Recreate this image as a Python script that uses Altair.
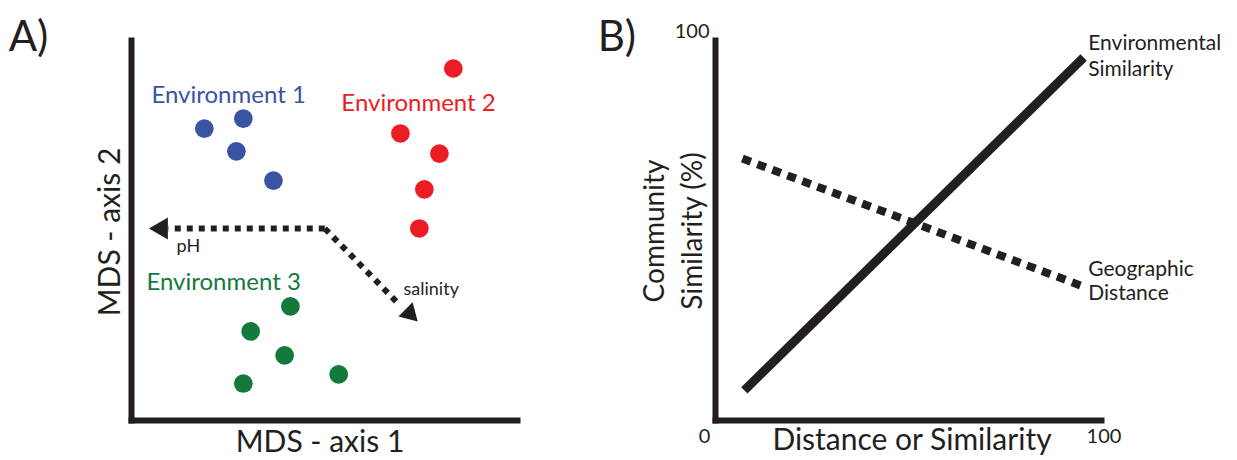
import altair as alt
import pandas as pd

FONT = "Lato"
INK = "#231f20"

# ---------------- Panel A data (MDS ordination, axis units 0-100) ----------------
env_names = ["Environment 1", "Environment 2", "Environment 3"]
env_colors = ["#3a54a4", "#ec1c24", "#137a3c"]
env1_x = [19.0, 29.1, 27.3, 36.9]
env1_y = [76.7, 79.3, 70.7, 63.0]
env2_x = [83.5, 69.8, 79.9, 76.0, 74.7]
env2_y = [92.5, 75.4, 70.1, 60.7, 50.4]
env3_x = [41.3, 31.0, 39.8, 29.1, 53.8]
env3_y = [29.9, 23.3, 17.0, 9.6, 12.0]
env_label_x = [5.3, 54.5, 4.0]
env_label_y = [83.3, 81.2, 34.3]

arrow_names = ["pH", "salinity"]
arrow_x0 = [50.2, 50.2]
arrow_y0 = [50.4, 50.4]
arrow_x1 = [9.7, 69.0]
arrow_y1 = [50.4, 30.9]
head_x = [7.1, 72.7]
head_y = [50.4, 27.5]
arrow_label_x = [11.8, 70.6]
arrow_label_y = [44.3, 32.8]

# ---------------- Panel B data (conceptual relationships, 0-100) ----------------
envsim_x = [7.6, 95.5]
envsim_y = [7.8, 95.4]
geodist_x = [7.1, 95.5]
geodist_y = [68.8, 35.1]
line_label_text = ["Environmental", "Similarity", "Geographic", "Distance"]
line_label_x = [96.7, 96.7, 96.7, 96.7]
line_label_y = [97.5, 90.4, 37.8, 31.7]
x_tick_values = [0, 100]
y_tick_values = [100]

panel_tags = ["A)", "B)"]
tag_x = [-31.7, -30.4]
tag_y = [97.2, 97.2]

# ---------------- tables ----------------
pts = pd.DataFrame({
    "x": env1_x + env2_x + env3_x,
    "y": env1_y + env2_y + env3_y,
    "env": [env_names[0]] * len(env1_x) + [env_names[1]] * len(env2_x) + [env_names[2]] * len(env3_x),
})
env_lab = pd.DataFrame({"x": env_label_x, "y": env_label_y, "env": env_names})
arrows = pd.DataFrame({"x": arrow_x0, "y": arrow_y0, "x2": arrow_x1, "y2": arrow_y1, "name": arrow_names})
heads = pd.DataFrame({"x": head_x, "y": head_y, "name": arrow_names})
arrow_lab = pd.DataFrame({"x": arrow_label_x, "y": arrow_label_y, "name": arrow_names})
tagA = pd.DataFrame({"x": [tag_x[0]], "y": [tag_y[0]], "t": [panel_tags[0]]})
tagB = pd.DataFrame({"x": [tag_x[1]], "y": [tag_y[1]], "t": [panel_tags[1]]})

lines = pd.DataFrame({
    "x": envsim_x + geodist_x,
    "y": envsim_y + geodist_y,
    "series": ["Environmental Similarity"] * 2 + ["Geographic Distance"] * 2,
})
line_lab = pd.DataFrame({"x": line_label_x, "y": line_label_y, "t": line_label_text})

color_scale = alt.Scale(domain=env_names, range=env_colors)
dom = alt.Scale(domain=[0, 100], nice=False, zero=False)

common_axis = dict(
    grid=False, ticks=False, domainWidth=6, domainColor=INK, domainCap="square",
    titleFont=FONT, titleFontWeight="normal", titleColor=INK, titleBaseline="alphabetic",
    labelFont=FONT, labelColor=INK,
)

axA_x = alt.Axis(title="MDS - axis 1", labels=False, titleFontSize=30,
                 titleX=188.5, titleY=31.5, **common_axis)
axA_y = alt.Axis(title="MDS - axis 2", labels=False, titleFontSize=30,
                 titleX=-11.5, titleY=191.5, titleAngle=270, **common_axis)

axB_x = alt.Axis(title="Distance or Similarity", values=x_tick_values, titleFontSize=30,
                 titleX=196.5, titleY=29.5,
                 labelFontSize=20, labelAlign="center", labelBaseline="top", labelFlush=False,
                 labelPadding=6,
                 labelOffset={"condition": {"test": "datum.value == 0", "value": -11}, "value": 2.5},
                 **common_axis)
axB_y = alt.Axis(title=["Community", "Similarity (%)"], values=y_tick_values, titleFontSize=28,
                 titleLineHeight=38, titleX=-52, titleY=190.5, titleAngle=270,
                 labelFontSize=20, labelBaseline="alphabetic", labelPadding=6, labelOffset=-2.5,
                 **common_axis)


def XA(field="x"):
    return alt.X(f"{field}:Q", scale=dom, axis=axA_x)


def YA(field="y"):
    return alt.Y(f"{field}:Q", scale=dom, axis=axA_y)


def XB(field="x"):
    return alt.X(f"{field}:Q", scale=dom, axis=axB_x)


def YB(field="y"):
    return alt.Y(f"{field}:Q", scale=dom, axis=axB_y)


W, H = 386, 380

# ---------------- Panel A ----------------
a_pts = alt.Chart(pts).mark_point(filled=True, size=350, opacity=1, strokeWidth=0).encode(
    x=XA(), y=YA(), color=alt.Color("env:N", scale=color_scale, legend=None))
a_lab = alt.Chart(env_lab).mark_text(align="left", baseline="alphabetic", font=FONT, fontSize=24).encode(
    x=XA(), y=YA(), text="env:N", color=alt.Color("env:N", scale=color_scale, legend=None))
a_arrows = alt.Chart(arrows).mark_rule(color=INK, strokeWidth=6, strokeDash=[6, 6], strokeCap="butt").encode(
    x=XA(), y=YA(), x2="x2:Q", y2="y2:Q")
a_head_ph = alt.Chart(heads[heads.name == "pH"]).mark_point(
    shape="triangle-left", filled=True, size=480, color=INK, opacity=1, strokeWidth=0).encode(x=XA(), y=YA())
a_head_sal = alt.Chart(heads[heads.name == "salinity"]).mark_point(
    shape="triangle-right", angle=45, filled=True, size=400, color=INK, opacity=1, strokeWidth=0).encode(x=XA(), y=YA())
a_arrow_lab = alt.Chart(arrow_lab).mark_text(align="left", baseline="alphabetic", font=FONT, fontSize=18, color=INK).encode(
    x=XA(), y=YA(), text="name:N")
a_tag = alt.Chart(tagA).mark_text(align="left", baseline="alphabetic", font=FONT, fontSize=42, color=INK).encode(
    x=XA(), y=YA(), text="t:N")

panelA = alt.layer(a_arrows, a_pts, a_lab, a_head_ph, a_head_sal, a_arrow_lab, a_tag).properties(width=W, height=H)

# ---------------- Panel B ----------------
b_solid = alt.Chart(lines[lines.series == "Environmental Similarity"]).mark_line(
    color=INK, strokeWidth=9, strokeCap="butt").encode(x=XB(), y=YB())
b_dash = alt.Chart(lines[lines.series == "Geographic Distance"]).mark_line(
    color=INK, strokeWidth=8, strokeDash=[9, 7], strokeCap="butt").encode(x=XB(), y=YB())
b_lab = alt.Chart(line_lab).mark_text(align="left", baseline="alphabetic", font=FONT, fontSize=21, color=INK).encode(
    x=XB(), y=YB(), text="t:N")
b_tag = alt.Chart(tagB).mark_text(align="left", baseline="alphabetic", font=FONT, fontSize=42, color=INK).encode(
    x=XB(), y=YB(), text="t:N")

panelB = alt.layer(b_solid, b_dash, b_lab, b_tag).properties(width=W, height=H)

chart = (
    alt.hconcat(panelA, panelB, spacing=80,
                padding={"top": 8, "left": 0, "right": 0, "bottom": 0})
    .configure(font=FONT)
    .configure_view(stroke=None)
)

chart.save("out.html", embed_options={"renderer": "svg", "actions": False})
